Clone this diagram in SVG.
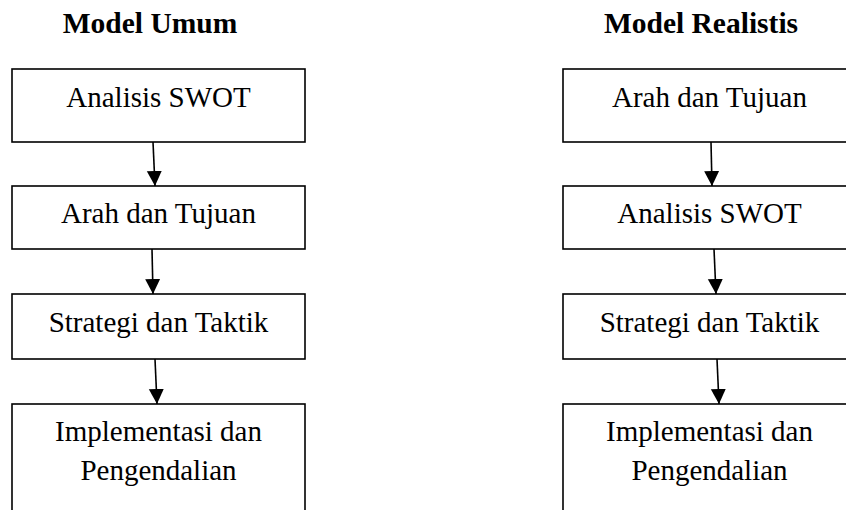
<svg xmlns="http://www.w3.org/2000/svg" width="846" height="510" viewBox="0 0 846 510">
  <style>
    .box { fill: #ffffff; stroke: #000000; stroke-width: 1.6; }
    .txt { font-family: "Liberation Serif", "Times New Roman", serif; font-size: 29px; fill: #000000; text-anchor: middle; }
    .title { font-family: "Liberation Serif", "Times New Roman", serif; font-size: 29.5px; font-weight: bold; fill: #000000; text-anchor: middle; }
    .conn { stroke: #000000; stroke-width: 1.6; fill: none; marker-end: url(#arrow); }
  </style>
  <defs>
    <marker id="arrow" markerUnits="userSpaceOnUse" markerWidth="16" markerHeight="16" viewBox="0 0 16 16" refX="15" refY="8" orient="auto">
      <path d="M0,0.5 L15,8 L0,15.5 Z" fill="#000000"/>
    </marker>
  </defs>
  <rect width="846" height="510" fill="#ffffff"/>

  <text class="title" x="150" y="33">Model Umum</text>
  <text class="title" x="701" y="33">Model Realistis</text>

  <g id="umum-swot">
    <rect class="box" x="12" y="69" width="293" height="73"/>
    <text class="txt" x="158.5" y="107">Analisis SWOT</text>
  </g>
  <g id="umum-arah">
    <rect class="box" x="12" y="186" width="293" height="63"/>
    <text class="txt" x="158.5" y="223">Arah dan Tujuan</text>
  </g>
  <g id="umum-strategi">
    <rect class="box" x="12" y="294" width="293" height="65"/>
    <text class="txt" x="158.5" y="332">Strategi dan Taktik</text>
  </g>
  <g id="umum-implementasi">
    <rect class="box" x="12" y="404" width="293" height="120"/>
    <text class="txt" x="158.5" y="441">Implementasi dan</text>
    <text class="txt" x="158.5" y="480">Pengendalian</text>
  </g>

  <g id="realistis-arah">
    <rect class="box" x="563" y="69" width="293" height="73"/>
    <text class="txt" x="709.5" y="107">Arah dan Tujuan</text>
  </g>
  <g id="realistis-swot">
    <rect class="box" x="563" y="186" width="293" height="63"/>
    <text class="txt" x="709.5" y="223">Analisis SWOT</text>
  </g>
  <g id="realistis-strategi">
    <rect class="box" x="563" y="294" width="293" height="65"/>
    <text class="txt" x="709.5" y="332">Strategi dan Taktik</text>
  </g>
  <g id="realistis-implementasi">
    <rect class="box" x="563" y="404" width="293" height="120"/>
    <text class="txt" x="709.5" y="441">Implementasi dan</text>
    <text class="txt" x="709.5" y="480">Pengendalian</text>
  </g>

  <g id="connectors">
    <line class="conn" x1="153" y1="142" x2="155" y2="186"/>
    <line class="conn" x1="152" y1="249" x2="153" y2="294"/>
    <line class="conn" x1="155" y1="359" x2="157" y2="404"/>
    <line class="conn" x1="711" y1="142" x2="712" y2="186"/>
    <line class="conn" x1="714" y1="249" x2="716" y2="294"/>
    <line class="conn" x1="717" y1="359" x2="719" y2="404"/>
  </g>
</svg>
